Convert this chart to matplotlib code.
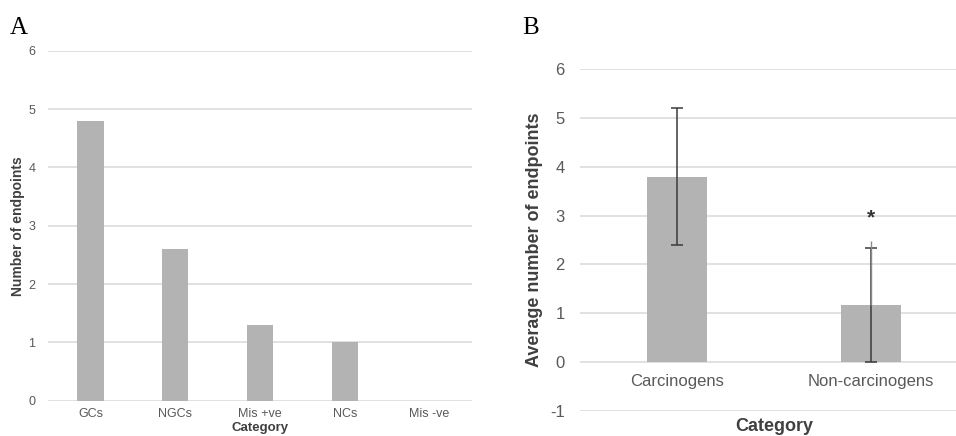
import numpy as np
import matplotlib
matplotlib.use('Agg')
import matplotlib.pyplot as plt

plt.rcParams['font.family'] = ['Liberation Sans', 'DejaVu Sans']
plt.rcParams['axes.unicode_minus'] = False  # reference shows a plain hyphen on -1

# Panel A data
cats_a = ['GCs', 'NGCs', 'Mis +ve', 'NCs', 'Mis -ve']
vals_a = [4.8, 2.6, 1.3, 1.0, 0.0]
yticks_a = [0, 1, 2, 3, 4, 5, 6]

# Panel B data
cats_b = ['Carcinogens', 'Non-carcinogens']
vals_b = [3.8, 1.16]
err_lo_b = [1.41, 1.16]
err_hi_b = [1.41, 1.17]
extra_hi_b = [0.0, 1.33]   # faint extra whisker on the non-carcinogens bar
star_y = 2.96              # significance marker height
yticks_b = [-1, 0, 1, 2, 3, 4, 5, 6]

bar_col = '#b3b3b3'
grid_col = '#d9d9d9'
tick_col = '#595959'
lab_col = '#404040'

fig = plt.figure(figsize=(9.56, 4.36), dpi=100)

# ---- A ----
ax1 = fig.add_axes([0.0502, 0.081, 0.4435, 0.8028])
x = np.arange(len(cats_a))
ax1.bar(x, vals_a, width=0.31, color=bar_col, zorder=3)
ax1.set_xlim(-0.5, len(cats_a) - 0.5)
ax1.set_ylim(0, 6)
ax1.set_yticks(yticks_a)
ax1.set_xticks(x)
ax1.set_xticklabels(cats_a)
ax1.yaxis.grid(True, color=grid_col, linewidth=1.1, zorder=0)
for s in ax1.spines.values():
    s.set_visible(False)
ax1.tick_params(length=0, labelsize=9, colors=tick_col)
ax1.tick_params(axis='x', pad=5)
ax1.tick_params(axis='y', pad=9)
ax1.text(-0.071, 0.5, 'Number of endpoints', transform=ax1.transAxes, rotation=90,
         ha='center', va='center', fontsize=10, fontweight='bold', color=lab_col)
# in the reference this sits right at the bottom edge; keep it just inside
ax1.text(0.5, -0.078, 'Category', transform=ax1.transAxes, ha='center', va='center',
         fontsize=9.5, fontweight='bold', color=lab_col)
fig.text(0.0105, 0.935, 'A', family='Liberation Serif', fontsize=18, va='center')

# ---- B ----
ax2 = fig.add_axes([0.6067, 0.058, 0.4059, 0.783])
xb = np.arange(len(cats_b))
ax2.bar(xb, vals_b, width=0.31, color=bar_col, zorder=3)
ax2.errorbar(xb, vals_b, yerr=[err_lo_b, err_hi_b], fmt='none', ecolor='#3a3a3a',
             elinewidth=1.1, capsize=4.4, capthick=1.1, zorder=4)
ax2.errorbar(xb[1:], vals_b[1:], yerr=[[0], extra_hi_b[1:]], fmt='none',
             ecolor='#8a8a8a', elinewidth=1, capsize=0, zorder=4)
ax2.text(xb[1], star_y, '*', ha='center', va='center', fontsize=15,
         fontweight='bold', color='#333333')
ax2.set_xlim(-0.5, 1.5)
ax2.set_ylim(-1, 6)
ax2.set_yticks(yticks_b)
ax2.set_xticks(xb)
ax2.set_xticklabels(cats_b)
ax2.yaxis.grid(True, color=grid_col, linewidth=1.1, zorder=0)
for s in ax2.spines.values():
    s.set_visible(False)
ax2.spines['bottom'].set_position(('data', 0))
ax2.tick_params(length=0, labelsize=12, colors=tick_col)
ax2.tick_params(axis='x', pad=9)
ax2.tick_params(axis='y', pad=11)
ax2.text(-0.116, 0.5, 'Average number of endpoints', transform=ax2.transAxes, rotation=90,
         ha='center', va='center', fontsize=13, fontweight='bold', color=lab_col)
ax2.text(0.5, -0.045, 'Category', transform=ax2.transAxes, ha='center', va='center',
         fontsize=13, fontweight='bold', color=lab_col)
fig.text(0.5465, 0.935, 'B', family='Liberation Serif', fontsize=18, va='center')

fig.savefig('out.png', dpi=100)
